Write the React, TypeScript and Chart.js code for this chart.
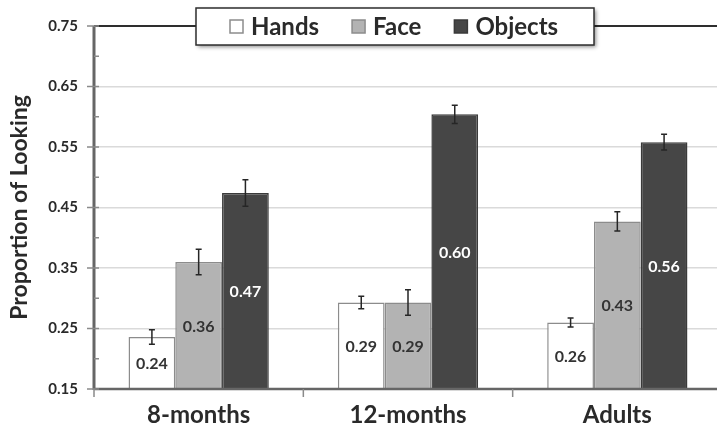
import React, { useEffect, useRef } from "react";
import { Chart, registerables } from "chart.js";

Chart.register(...registerables);

const categories = ["8-months", "12-months", "Adults"];
const seriesNames = ["Hands", "Face", "Objects"];
const handsValues = [0.236, 0.293, 0.26];
const faceValues = [0.36, 0.293, 0.427];
const objectsValues = [0.474, 0.604, 0.558];
const handsErrors = [0.012, 0.0105, 0.0075];
const faceErrors = [0.021, 0.021, 0.016];
const objectsErrors = [0.022, 0.015, 0.013];
const yTickValues = [0.15, 0.25, 0.35, 0.45, 0.55, 0.65, 0.75];

const FONT = "Lato, 'Open Sans', sans-serif";
const TEXT = "#2a2a2a";
const fills = ["#ffffff", "#b3b3b3", "#464646"];
const borders = ["#8c8c8c", "#8c8c8c", "#3a3a3a"];
const labelColors = ["#333333", "#333333", "#ffffff"];
const errorSets = [handsErrors, faceErrors, objectsErrors];

const decorPlugin = {
  id: "decor",
  afterDatasetsDraw(chart: any) {
    const { ctx, chartArea, scales } = chart;
    const y = scales.y;
    ctx.save();

    // axis lines
    ctx.strokeStyle = "#666666";
    ctx.lineWidth = 3;
    ctx.beginPath();
    ctx.moveTo(chartArea.left, chartArea.top);
    ctx.lineTo(chartArea.left, chartArea.bottom + 1);
    ctx.stroke();
    ctx.lineWidth = 2.5;
    ctx.beginPath();
    ctx.moveTo(chartArea.left, chartArea.bottom);
    ctx.lineTo(chart.width, chartArea.bottom);
    ctx.stroke();

    // major and minor y ticks
    ctx.strokeStyle = "#8a8a8a";
    ctx.lineWidth = 1.5;
    yTickValues.forEach((v, i) => {
      const py = y.getPixelForValue(v);
      ctx.beginPath();
      ctx.moveTo(chartArea.left - 7, py);
      ctx.lineTo(chartArea.left + 5, py);
      ctx.stroke();
      if (i < yTickValues.length - 1) {
        const my = y.getPixelForValue(v + 0.05);
        ctx.beginPath();
        ctx.moveTo(chartArea.left, my);
        ctx.lineTo(chartArea.left + 5, my);
        ctx.stroke();
      }
    });

    // x ticks at category boundaries
    const step = (chartArea.right - chartArea.left) / categories.length;
    for (let i = 0; i < categories.length; i++) {
      const px = chartArea.left + i * step;
      ctx.beginPath();
      ctx.moveTo(px, chartArea.bottom);
      ctx.lineTo(px, chartArea.bottom + 8);
      ctx.stroke();
    }

    // error bars
    ctx.strokeStyle = "#262626";
    ctx.lineWidth = 1.5;
    chart.data.datasets.forEach((ds: any, di: number) => {
      const meta = chart.getDatasetMeta(di);
      meta.data.forEach((bar: any, i: number) => {
        const v = ds.data[i];
        const e = errorSets[di][i];
        const top = y.getPixelForValue(v + e);
        const bot = y.getPixelForValue(v - e);
        ctx.beginPath();
        ctx.moveTo(bar.x, top);
        ctx.lineTo(bar.x, bot);
        ctx.moveTo(bar.x - 3, top);
        ctx.lineTo(bar.x + 3, top);
        ctx.moveTo(bar.x - 3, bot);
        ctx.lineTo(bar.x + 3, bot);
        ctx.stroke();
      });
    });

    // value labels centred in the visible part of each bar
    ctx.font = `bold 16px ${FONT}`;
    ctx.textAlign = "center";
    ctx.textBaseline = "middle";
    chart.data.datasets.forEach((ds: any, di: number) => {
      const meta = chart.getDatasetMeta(di);
      ctx.fillStyle = labelColors[di];
      meta.data.forEach((bar: any, i: number) => {
        const cy = (bar.y + chartArea.bottom) / 2;
        ctx.fillText(Number(ds.data[i]).toFixed(2), bar.x, cy + 1);
      });
    });
    ctx.restore();
  },
  afterDraw(chart: any) {
    const { ctx } = chart;
    ctx.save();
    // legend box
    const bx = 196, by = 8, bw = 398, bh = 37;
    ctx.shadowColor = "rgba(0,0,0,0.45)";
    ctx.shadowBlur = 4;
    ctx.shadowOffsetX = 2;
    ctx.shadowOffsetY = 2;
    ctx.fillStyle = "#ffffff";
    ctx.fillRect(bx, by, bw, bh);
    ctx.shadowColor = "transparent";
    ctx.strokeStyle = "#2e2e2e";
    ctx.lineWidth = 1.5;
    ctx.strokeRect(bx, by, bw, bh);

    ctx.font = `bold 24px ${FONT}`;
    ctx.textBaseline = "middle";
    ctx.textAlign = "left";
    const sq = 13, gapText = 8, gapItem = 33;
    const widths = seriesNames.map((n) => ctx.measureText(n).width);
    let cx = bx + 34;
    const cy = by + bh / 2;
    seriesNames.forEach((name, i) => {
      ctx.fillStyle = fills[i];
      ctx.fillRect(cx, cy - sq / 2, sq, sq);
      ctx.strokeStyle = borders[i];
      ctx.lineWidth = 1.5;
      ctx.strokeRect(cx, cy - sq / 2, sq, sq);
      ctx.fillStyle = TEXT;
      ctx.fillText(name, cx + sq + gapText, cy + 1);
      cx += sq + gapText + widths[i] + gapItem;
    });
    ctx.restore();
  },
};

export default function App() {
  const canvasRef = useRef<HTMLCanvasElement | null>(null);

  useEffect(() => {
    const canvas = canvasRef.current;
    if (!canvas) return;
    const seriesValues = [handsValues, faceValues, objectsValues];
    const chart = new Chart(canvas, {
      type: "bar",
      data: {
        labels: categories,
        datasets: seriesNames.map((name, i) => ({
          label: name,
          data: seriesValues[i],
          backgroundColor: fills[i],
          borderColor: borders[i],
          borderWidth: 1.5,
          categoryPercentage: 0.67,
          barPercentage: 1.0,
        })),
      },
      options: {
        responsive: false,
        animation: false,
        layout: { padding: { top: 26, right: 18, left: 0, bottom: 0 } },
        plugins: { legend: { display: false }, tooltip: { enabled: false } },
        scales: {
          x: {
            type: "category",
            offset: true,
            grid: { display: false, drawTicks: false },
            border: { display: false },
            ticks: {
              color: TEXT,
              font: { family: FONT, size: 24, weight: "bold" },
              padding: 12,
              maxRotation: 0,
            },
            afterFit(scale: any) {
              scale.height = 49;
            },
          },
          y: {
            min: 0.15,
            max: 0.75,
            ticks: {
              stepSize: 0.1,
              color: TEXT,
              padding: 16,
              font: { family: FONT, size: 15, weight: "bold" },
              callback: (v: any) => Number(v).toFixed(2),
            },
            grid: {
              drawTicks: false,
              color: (c: any) => {
                const v = c.tick ? c.tick.value : 0;
                if (Math.abs(v - 0.75) < 1e-6) return "#2e2e2e";
                if (Math.abs(v - 0.15) < 1e-6) return "rgba(0,0,0,0)";
                return "#dadada";
              },
              lineWidth: (c: any) => {
                const v = c.tick ? c.tick.value : 0;
                return Math.abs(v - 0.75) < 1e-6 ? 2 : 1.5;
              },
            },
            border: { display: false },
            title: {
              display: true,
              text: "Proportion of Looking",
              color: TEXT,
              font: { family: FONT, size: 23, weight: "bold" },
              padding: { top: 6, bottom: 0 },
            },
            afterFit(scale: any) {
              scale.width = 94;
            },
          },
        },
      },
      plugins: [decorPlugin],
    });
    return () => chart.destroy();
  }, []);

  return (
    <div
      style={{
        position: "fixed",
        left: 0,
        top: 0,
        width: 717,
        height: 438,
        overflow: "hidden",
        background: "#ffffff",
      }}
    >
      <canvas ref={canvasRef} width={740} height={438} style={{ display: "block" }} />
    </div>
  );
}
